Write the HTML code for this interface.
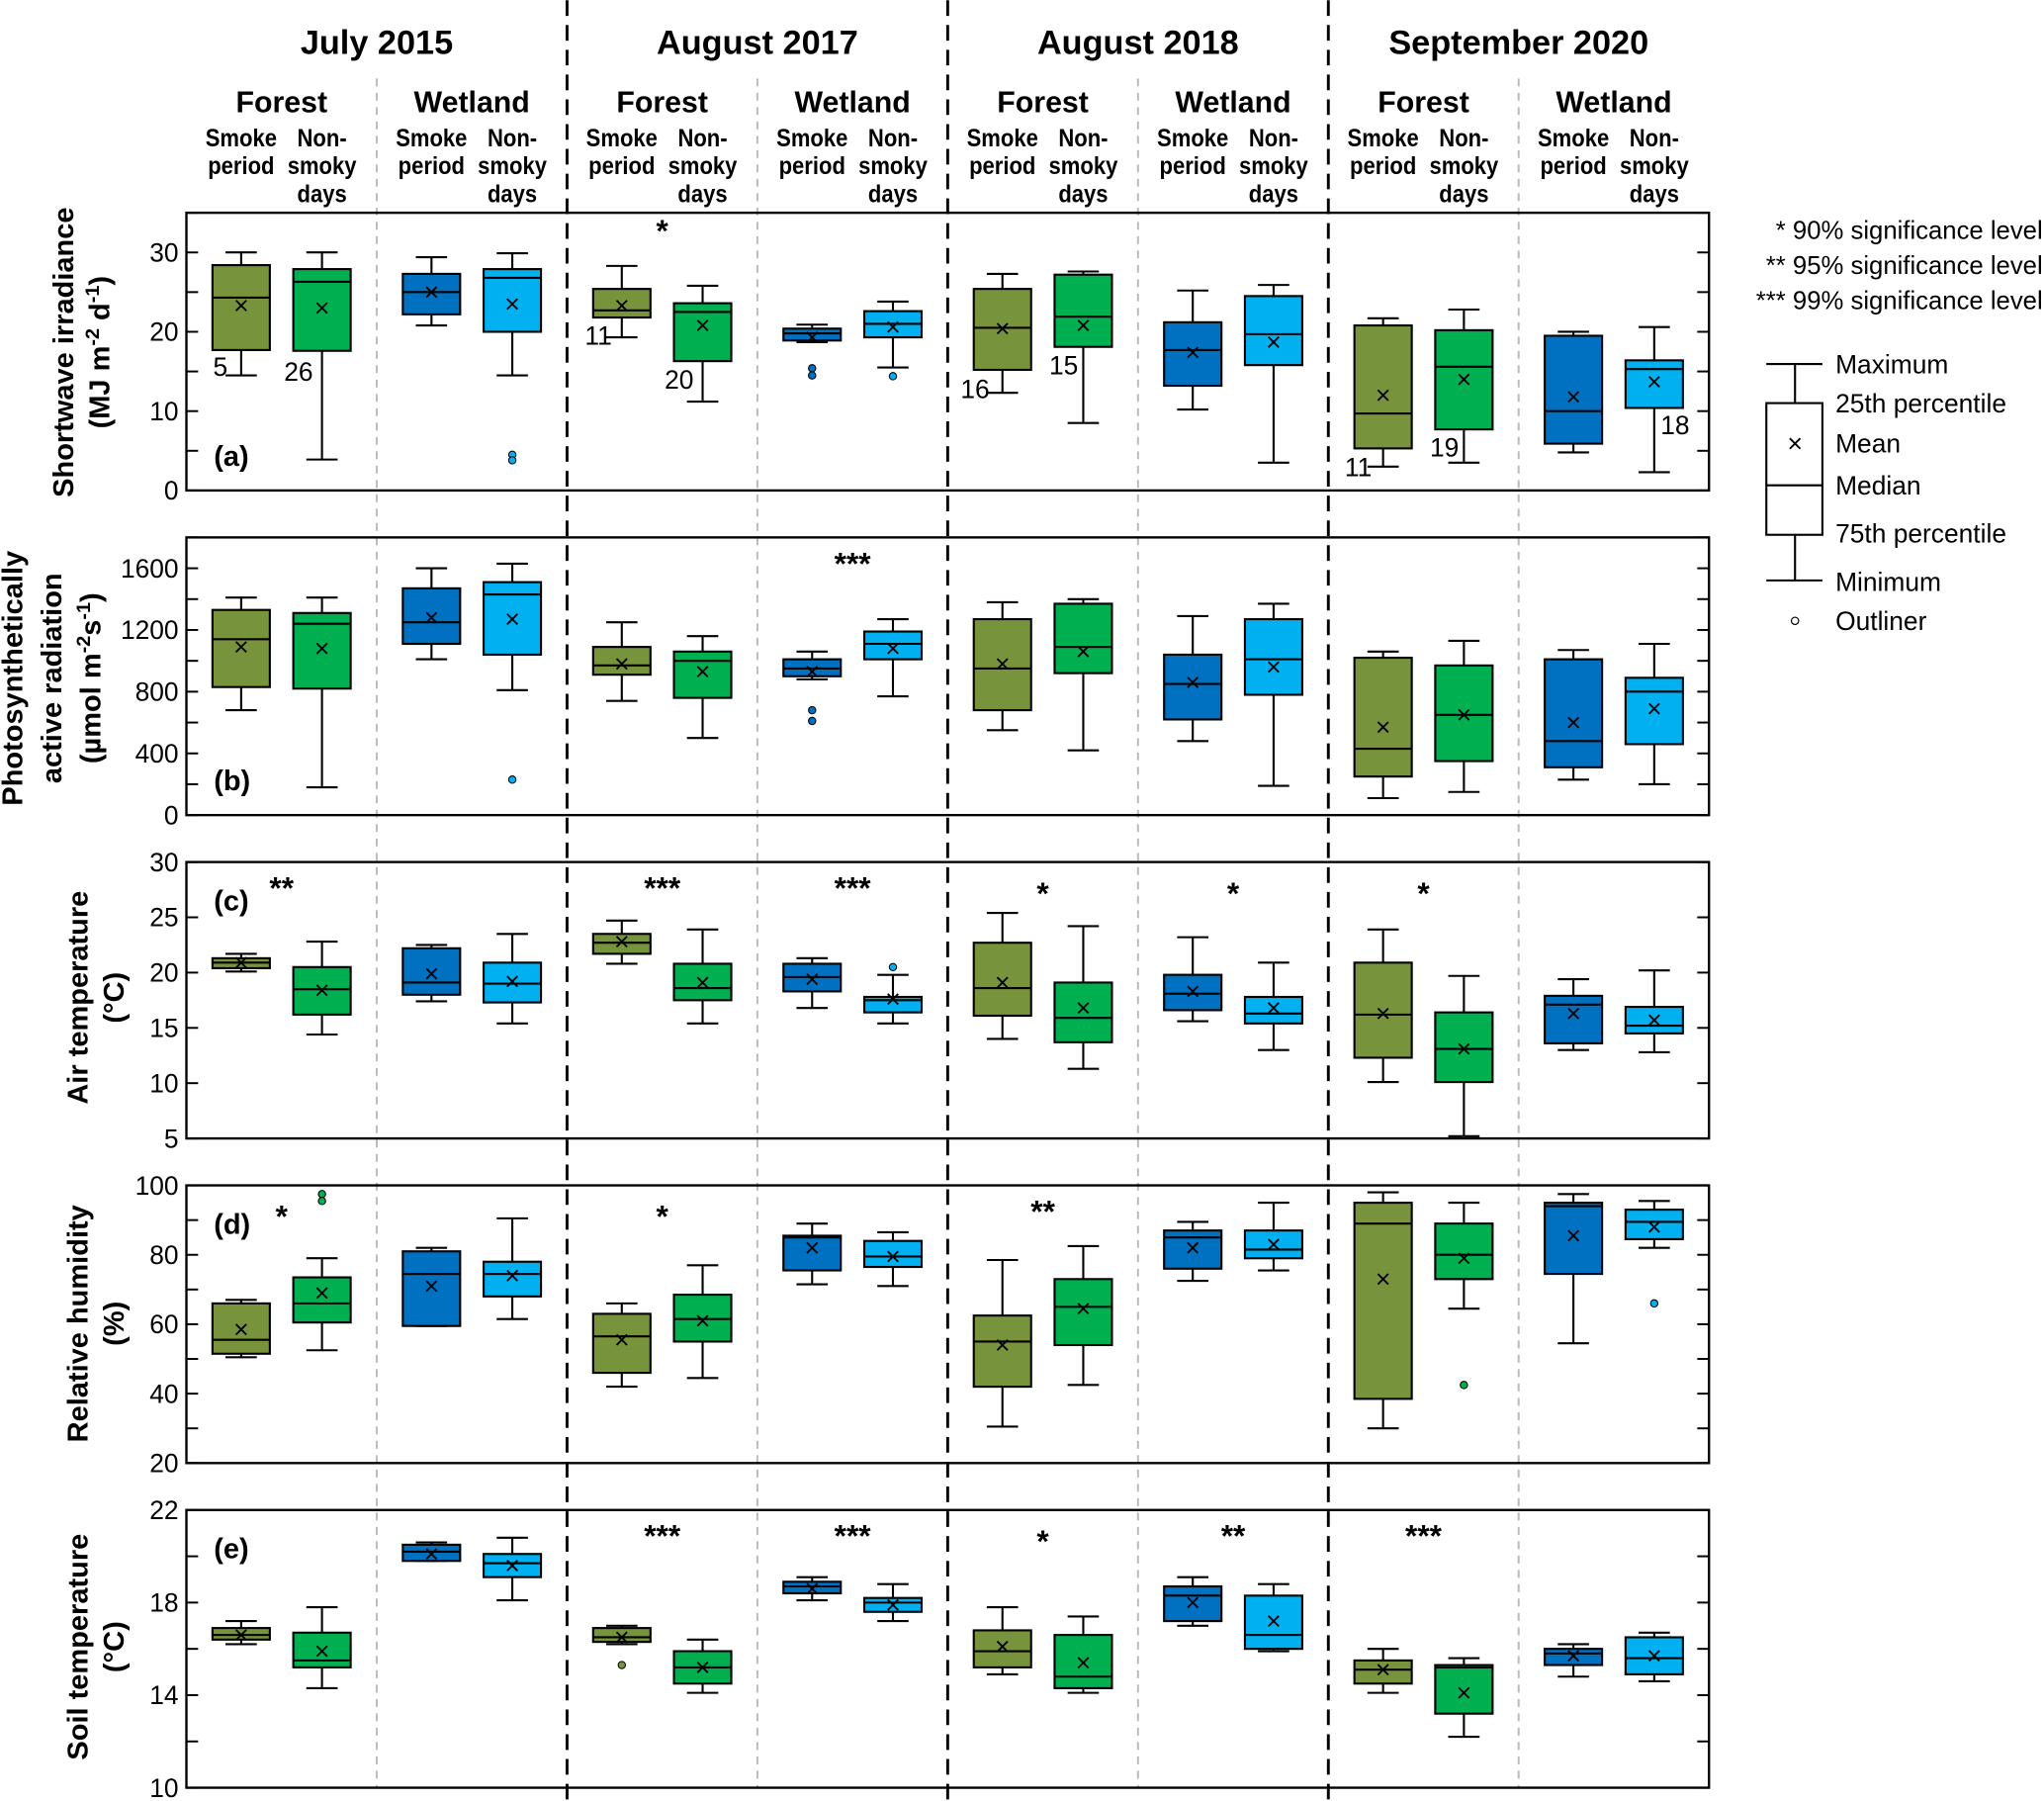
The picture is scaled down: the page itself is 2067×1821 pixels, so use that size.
<!DOCTYPE html>
<html><head><meta charset="utf-8"><style>
html,body{margin:0;padding:0;background:#fff;}
svg{display:block;font-family:"Liberation Sans",sans-serif;}
</style></head><body>
<svg id="chart" width="2067" height="1821" viewBox="0 0 1568 1381" xmlns="http://www.w3.org/2000/svg"></svg>
<script>
// ---- categories ----
const periods = ["July 2015","August 2017","August 2018","September 2020"];
const sites = ["Forest","Wetland"];
const conditions = ["Smoke period","Non-smoky days"];
// ---- (a) shortwave irradiance ----
const swMax = [30,30,29.4,29.9,28.3,25.8,20.9,23.8,27.3,27.6,25.2,25.9,21.7,22.8,20,20.6];
const swQ3  = [28.4,27.9,27.3,27.9,25.4,23.6,20.4,22.6,25.4,27.2,21.2,24.5,20.8,20.2,19.5,16.4];
const swMed = [24.3,26.3,25,26.8,22.7,22.5,19.8,21,20.5,21.9,17.7,19.7,9.7,15.6,10,15.3];
const swQ1  = [17.7,17.6,22.2,20,21.8,16.3,18.9,19.3,15.2,18.1,13.2,15.8,5.3,7.7,5.9,10.4];
const swMin = [14.5,3.9,20.8,14.5,19.3,11.2,18.7,15.5,12.3,8.5,10.2,3.5,3,3.5,4.8,2.3];
const swMean= [23.3,23,25,23.5,23.3,20.8,19.3,20.6,20.4,20.8,17.4,18.7,12,14,11.8,13.7];
const swOut = [[],[],[],[4.5,3.8],[],[],[15.4,14.5],[14.4],[],[],[],[],[],[],[],[]];
const swN   = ["5","26","","","11","20","","","16","15","","","11","19","","18"];
// ---- (b) PAR ----
const parMax = [1410,1410,1600,1630,1250,1160,1060,1270,1380,1400,1290,1370,1060,1130,1070,1110];
const parQ3  = [1330,1310,1470,1510,1090,1060,1010,1190,1270,1370,1040,1270,1020,970,1010,890];
const parMed = [1140,1240,1250,1430,970,1000,950,1110,950,1090,850,1010,430,650,480,800];
const parQ1  = [830,820,1110,1040,910,760,900,1010,680,920,620,780,250,350,310,460];
const parMin = [680,180,1010,810,740,500,880,770,550,420,480,190,110,150,230,200];
const parMean= [1090,1080,1280,1270,980,930,930,1080,980,1060,860,960,570,650,600,690];
const parOut = [[],[],[],[230],[],[],[680,610],[],[],[],[],[],[],[],[],[]];
// ---- (c) air temperature ----
const taMax = [21.7,22.8,22.5,23.5,24.7,23.9,21.3,19.8,25.4,24.2,23.2,20.9,23.9,19.7,19.4,20.2];
const taQ3  = [21.3,20.5,22.2,20.9,23.5,20.8,20.8,17.8,22.7,19.1,19.8,17.8,20.9,16.4,17.9,16.9];
const taMed = [20.9,18.5,19.1,19,22.7,18.6,19.6,17.5,18.6,15.9,18.1,16.3,16.2,13.1,17.1,15.2];
const taQ1  = [20.4,16.2,18,17.3,21.7,17.5,18.3,16.4,16.1,13.7,16.6,15.4,12.3,10.1,13.6,14.5];
const taMin = [20.1,14.4,17.4,15.4,20.8,15.4,16.8,15.4,14,11.3,15.6,13,10.1,5.2,13,12.8];
const taMean= [20.9,18.4,19.9,19.2,22.8,19.1,19.4,17.6,19.1,16.8,18.3,16.8,16.3,13.1,16.3,15.7];
const taOut = [[],[],[],[],[],[],[],[20.5],[],[],[],[],[],[],[],[]];
// ---- (d) relative humidity ----
const rhMax = [67,79,82,90.5,66,77,89,86.5,78.5,82.5,89.5,95,98,95,97.5,95.5];
const rhQ3  = [66,73.5,81,78,63,68.5,85.5,84,62.5,73,87,87,95,89,95,93];
const rhMed = [55.5,66,74.5,74.5,56.5,61.5,85,79.5,55,65,85,81.5,89,80,94,89.5];
const rhQ1  = [51.5,60.5,59.5,68,46,55,75.5,76.5,42,54,76,79,38.5,73,74.5,84.5];
const rhMin = [50.5,52.5,59.5,61.5,42,44.5,71.5,71,30.5,42.5,72.5,75.5,30,64.5,54.5,82];
const rhMean= [58.5,69,71,74,55.5,61,82,79.5,54,64.5,82,83,73,79,85.5,88];
const rhOut = [[],[97.5,95.5],[],[],[],[],[],[],[],[],[],[],[],[42.5],[],[66]];
// ---- (e) soil temperature ----
const tsMax = [17.2,17.8,20.6,20.8,17,16.4,19.1,18.8,17.8,17.4,19.1,18.8,16,15.6,16.2,16.7];
const tsQ3  = [16.9,16.7,20.5,20.1,16.9,15.9,18.9,18.2,16.8,16.6,18.7,18.3,15.5,15.3,16,16.5];
const tsMed = [16.6,15.5,20.2,19.7,16.5,15.2,18.7,18,15.9,14.8,18.3,16.6,15.1,15.2,15.8,15.6];
const tsQ1  = [16.4,15.2,19.8,19.1,16.3,14.5,18.4,17.6,15.2,14.3,17.2,16,14.5,13.2,15.3,14.9];
const tsMin = [16.2,14.3,19.8,18.1,16.2,14.1,18.1,17.2,14.9,14.1,17,15.9,14.1,12.2,14.8,14.6];
const tsMean= [16.6,15.9,20.1,19.6,16.5,15.2,18.6,17.9,16.1,15.4,18,17.2,15.1,14.1,15.7,15.7];
const tsOut = [[],[],[],[],[15.3],[],[],[],[],[],[],[],[],[],[],[]];
// ---- tick labels ----
const swTicks = [0,10,20,30];
const parTicks = [0,400,800,1200,1600];
const taTicks = [5,10,15,20,25,30];
const rhTicks = [20,40,60,80,100];
const tsTicks = [10,14,18,22];
// ---- significance stars [box index, stars] ----
const parSig = [[6.5,"***"]];
const swSig = [[4.5,"*"]];
const taSig = [[0.6,"**"],[4.5,"***"],[6.5,"***"],[8.5,"*"],[10.5,"*"],[12.5,"*"]];
const rhSig = [[0.5,"*"],[4.5,"*"],[8.5,"**"]];
const tsSig = [[4.5,"***"],[6.5,"***"],[8.5,"*"],[10.5,"**"],[12.5,"***"]];

const NS="http://www.w3.org/2000/svg";
const svg=document.getElementById('chart');
function mk(tag,attrs,parent,text){const e=document.createElementNS(NS,tag);for(const k in attrs)e.setAttribute(k,attrs[k]);if(text!==undefined)e.textContent=text;(parent||svg).appendChild(e);return e;}
const X0=143,X1=1311,GW=(X1-X0)/8;
const colors=["#77933C","#00B050","#0070C0","#00B0F0"];
function boxX(i){const g=Math.floor(i/2);return X0+GW*(g+0.5)+(i%2===0?-31:31);}

const panels=[
 {id:"a",top:163,bot:376,lo:0,hi:35,minor:5,ticks:swTicks,mx:swMax,q3:swQ3,md:swMed,q1:swQ1,mn:swMin,me:swMean,out:swOut,sig:swSig,sigY:181,name:"shortwave"},
 {id:"b",top:412,bot:625,lo:0,hi:1800,minor:200,ticks:parTicks,mx:parMax,q3:parQ3,md:parMed,q1:parQ1,mn:parMin,me:parMean,out:parOut,sig:parSig,sigY:440,name:"par"},
 {id:"c",top:661,bot:873,lo:5,hi:30,minor:5,ticks:taTicks,mx:taMax,q3:taQ3,md:taMed,q1:taQ1,mn:taMin,me:taMean,out:taOut,sig:taSig,sigY:689,name:"air-temperature"},
 {id:"d",top:909,bot:1122,lo:20,hi:100,minor:10,ticks:rhTicks,mx:rhMax,q3:rhQ3,md:rhMed,q1:rhQ1,mn:rhMin,me:rhMean,out:rhOut,sig:rhSig,sigY:937,name:"relative-humidity"},
 {id:"e",top:1158,bot:1371,lo:10,hi:22,minor:2,ticks:tsTicks,mx:tsMax,q3:tsQ3,md:tsMed,q1:tsQ1,mn:tsMin,me:tsMean,out:tsOut,sig:tsSig,sigY:1186,name:"soil-temperature"}
];

// dividers
for(let g=1;g<8;g++){const x=X0+GW*g;
 let l;
 if(g%2===0){l=mk('line',{x1:x,y1:0,x2:x,y2:1381,stroke:"#000","stroke-width":2.2,"stroke-dasharray":"12,7"});}
 else{l=mk('line',{x1:x,y1:60,x2:x,y2:1371,stroke:"#bbb","stroke-width":1.5,"stroke-dasharray":"6,5"});}
 
 
}
// headers
periods.forEach((p,k)=>{const t=mk('text',{x:X0+GW*(2*k+1),y:41,"text-anchor":"middle","font-size":26,"font-weight":"bold"},svg,p);
 
 sites.forEach((s,j)=>{const cx=X0+GW*(2*k+j+0.5);
  const st=mk('text',{x:cx,y:86,"text-anchor":"middle","font-size":23,"font-weight":"bold"},svg,s);
  
  const lines=[["Smoke","period"],["Non-","smoky","days"]];
  [-31,31].forEach((dx,c)=>{lines[c].forEach((w,r)=>{const tt=mk('text',{x:cx+dx,y:112+r*21.5,"text-anchor":"middle","font-size":19,"font-weight":"bold",transform:`translate(${cx+dx} 0) scale(0.88 1) translate(${-(cx+dx)} 0)`},svg,w);
   });});
 });
});

panels.forEach(P=>{
 const y=v=>P.bot-(v-P.lo)*(P.bot-P.top)/(P.hi-P.lo);
 const g=mk('g',{});
 const fr=mk('rect',{x:X0,y:P.top,width:X1-X0,height:P.bot-P.top,fill:"none",stroke:"#000","stroke-width":1.8},g);
 
 for(let v=P.lo;v<=P.hi+1e-9;v+=P.minor){
  mk('line',{x1:X0,y1:y(v),x2:X0+9,y2:y(v),stroke:"#000","stroke-width":1.5},g);
  mk('line',{x1:X1-9,y1:y(v),x2:X1,y2:y(v),stroke:"#000","stroke-width":1.5},g);
 }
 P.ticks.forEach(v=>{const t=mk('text',{x:137,y:y(v)+7,"text-anchor":"end","font-size":20},g,String(v));
  });
 const pl=mk('text',{x:164,y:(P.id==='a'||P.id==='b')?P.bot-19:P.top+37,"font-size":22,"font-weight":"bold"},g,"("+P.id+")");
 
 for(let i=0;i<16;i++){
  const cx=boxX(i),col=colors[i%4];
  const b=mk('g',{},g);
  mk('line',{x1:cx,y1:y(P.mx[i]),x2:cx,y2:y(P.q3[i]),stroke:"#000","stroke-width":1.6},b);
  mk('line',{x1:cx,y1:y(P.q1[i]),x2:cx,y2:y(P.mn[i]),stroke:"#000","stroke-width":1.6},b);
  mk('line',{x1:cx-12,y1:y(P.mx[i]),x2:cx+12,y2:y(P.mx[i]),stroke:"#000","stroke-width":1.6},b);
  mk('line',{x1:cx-12,y1:y(P.mn[i]),x2:cx+12,y2:y(P.mn[i]),stroke:"#000","stroke-width":1.6},b);
  mk('rect',{x:cx-22,y:y(P.q3[i]),width:44,height:Math.max(1,y(P.q1[i])-y(P.q3[i])),fill:col,stroke:"#000","stroke-width":1.6},b);
  mk('line',{x1:cx-22,y1:y(P.md[i]),x2:cx+22,y2:y(P.md[i]),stroke:"#000","stroke-width":1.6},b);
  const my=y(P.me[i]);
  mk('path',{d:`M${cx-4},${my-4}L${cx+4},${my+4}M${cx-4},${my+4}L${cx+4},${my-4}`,stroke:"#000","stroke-width":1.4},b);
  P.out[i].forEach(o=>{mk('circle',{cx:cx,cy:y(o),r:2.8,fill:col,stroke:"#000","stroke-width":0.8},b);});
 }
 P.sig.forEach(s=>{const cx=X0+GW*(Math.floor(s[0]/2)+0.5);const t=mk('text',{x:cx,y:P.sigY+(s[1]==="*"?4:0),"text-anchor":"middle","font-size":24,"font-weight":"bold"},g,s[1]);
  });
});
// sample-size labels panel a
const nPos=[[169,288],[229,292],null,null,[459,264],[521,298],null,null,[748,305],[816,287],null,null,[1042,365],[1108,350],null,[1285,333]];
swN.forEach((n,i)=>{if(!n)return;const t=mk('text',{x:nPos[i][0],y:nPos[i][1],"text-anchor":"middle","font-size":20},svg,n);
 });
// y-axis titles
function ytitle(lines,cx,cy,name){lines.forEach((l,k)=>{const x=lines.xs[k];const t=mk('text',{x:x,y:cy,"text-anchor":"middle","font-size":22,"font-weight":"bold",transform:`rotate(-90 ${x} ${cy})`},svg);
 t.innerHTML=l;});}
let L;
L=["Shortwave irradiance","(MJ m<tspan dy='-8' font-size='15'>-2</tspan><tspan dy='8'> d</tspan><tspan dy='-8' font-size='15'>-1</tspan><tspan dy='8'>)</tspan>"];L.xs=[56,84];ytitle(L,0,270,'y-axis-title-a');
L=["Photosynthetically","active radiation","(µmol m<tspan dy='-8' font-size='15'>-2</tspan><tspan dy='8'>s</tspan><tspan dy='-8' font-size='15'>-1</tspan><tspan dy='8'>)</tspan>"];L.xs=[17,47,77];ytitle(L,0,520,'y-axis-title-b');
L=["Air temperature","(°C)"];L.xs=[67,95];ytitle(L,0,765,'y-axis-title-c');
L=["Relative humidity","(%)"];L.xs=[67,95];ytitle(L,0,1015,'y-axis-title-d');
L=["Soil temperature","(°C)"];L.xs=[67,95];ytitle(L,0,1263,'y-axis-title-e');
// legend
[["* 90% significance level",183],["** 95% significance level",210],["*** 99% significance level",237]].forEach(a=>{const t=mk('text',{x:1567,y:a[1],"text-anchor":"end","font-size":19.5},svg,a[0]);});
const lg=mk('g',{});
mk('line',{x1:1355,y1:279,x2:1398,y2:279,stroke:"#000","stroke-width":1.6},lg);
mk('line',{x1:1377,y1:279,x2:1377,y2:309,stroke:"#000","stroke-width":1.6},lg);
mk('rect',{x:1355,y:309,width:43,height:101,fill:"#fff",stroke:"#000","stroke-width":1.6},lg);
mk('line',{x1:1355,y1:372,x2:1398,y2:372,stroke:"#000","stroke-width":1.6},lg);
mk('path',{d:"M1373,336L1381,344M1373,344L1381,336",stroke:"#000","stroke-width":1.4},lg);
mk('line',{x1:1377,y1:410,x2:1377,y2:445,stroke:"#000","stroke-width":1.6},lg);
mk('line',{x1:1355,y1:445,x2:1398,y2:445,stroke:"#000","stroke-width":1.6},lg);
mk('circle',{cx:1377,cy:476,r:2.8,fill:"#fff",stroke:"#000","stroke-width":0.9},lg);
[["Maximum",286],["25th percentile",316],["Mean",347],["Median",379],["75th percentile",416],["Minimum",453],["Outliner",483]].forEach(a=>{const t=mk('text',{x:1408,y:a[1],"font-size":20},lg,a[0]);});
</script>
</body></html>
